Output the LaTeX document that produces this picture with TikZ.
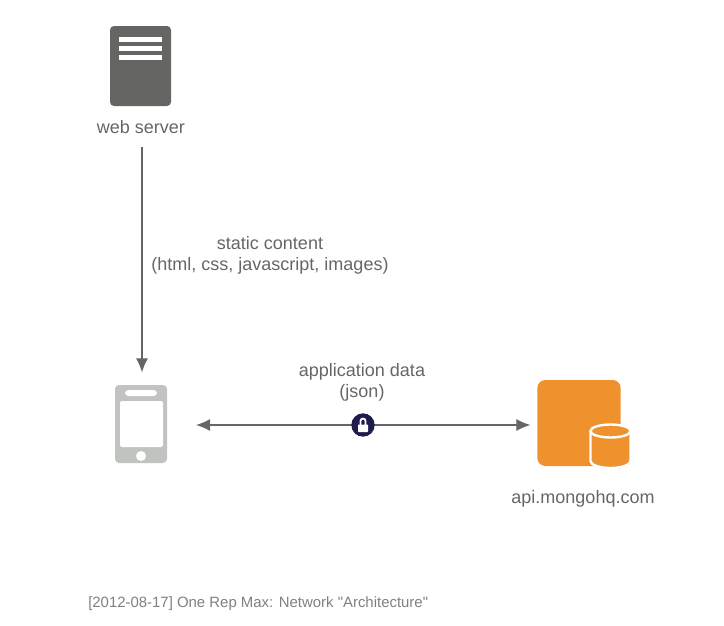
\documentclass[tikz,border=0pt]{standalone}
\usepackage{fontspec}
\setmainfont[Ligatures=TeXOff]{Liberation Sans}
\usetikzlibrary{arrows.meta,backgrounds,positioning,shapes.geometric}
\definecolor{netInk}{HTML}{666666}
\definecolor{netMuted}{HTML}{808080}
\definecolor{netServer}{HTML}{656563}
\definecolor{netPhone}{HTML}{C1C3C0}
\definecolor{netOrange}{HTML}{EF922E}
\definecolor{netLock}{HTML}{1F1C4D}
\tikzset{
  net diagram/.style={x=0.75pt, y=-0.75pt, text=netInk,
    font=\fontsize{13.5}{15.75}\selectfont},
  net label/.style={align=center, inner sep=0pt},
  net note/.style={inner sep=0pt, anchor=west, text=netMuted,
    font=\fontsize{11.2}{13}\selectfont},
  net icon/.style={inner sep=0pt, outer sep=0pt, rectangle},
  net server/.style={net icon, fill=netServer, minimum width=45.75pt,
    minimum height=60pt, rounded corners=3pt},
  net phone/.style={net icon, fill=netPhone, minimum width=39pt,
    minimum height=58.5pt, rounded corners=3pt},
  net store/.style={net icon, fill=netOrange, minimum width=62.5pt,
    minimum height=64.5pt, rounded corners=6pt},
  net lock/.style={circle, fill=netLock, inner sep=0pt, minimum size=17.5pt},
  net arrow/.style={-{Latex[length=10.5pt,width=9pt]}, draw=netInk, line width=0.9pt},
  net both/.style={net arrow, {Latex[length=10.5pt,width=9pt]}-{Latex[length=10.5pt,width=9pt]}}
}
\begin{document}
\begin{tikzpicture}[net diagram]
\useasboundingbox (0,0) rectangle (724,625);
% server
\node[net server] (server) at (140.5,66) {};
\foreach \y in {39.5,48.5,57.5}
  \fill[white] (119,\y-2.5) rectangle (162,\y+2.5);
\node[net label] (serverLabel) at (141,127) {web server};
% phone
\node[net phone] (phone) at (141,424) {};
\fill[white, rounded corners=2.5pt] (125,390) rectangle (157,396);
\fill[white, rounded corners=1.5pt] (120,401) rectangle (163,447);
\fill[white] (141,456) circle (5);
% mongo
\node[net store] (mongo) at (579,423) {};
\fill[netOrange, draw=white, line width=1.8pt] (590.5,431) -- (590.5,461)
  arc[start angle=180, end angle=0, x radius=20, y radius=7] -- (630.5,431);
\fill[netOrange, draw=white, line width=1.8pt] (610.5,431) ellipse (20 and 6.5);
\node[net label] (mongoLabel) at (583,499) {api.mongohq.com};
% lock
\node[net lock] (lock) at (363,425) {};
\fill[white, rounded corners=0.5pt] (358,424.5) rectangle (368,432);
\draw[white, line width=1.3pt] (360.5,425) -- (360.5,421)
  arc[start angle=180, end angle=360, radius=2.5] -- (365.5,425);
% connectors
\draw[net arrow, shorten <=10pt, shorten >=9.5pt]
  ([xshift=0.75pt]serverLabel.south) -- ([xshift=0.75pt]phone.north);
\begin{scope}[on background layer]
\draw[net both, shorten <=21.75pt, shorten >=5.25pt]
  (phone.east |- lock) -- (mongo.west |- lock);
\end{scope}
% labels
\node[net label] (staticLabel) at (270,255) {static content\\(html, css, javascript, images)};
\node[net label] (dataLabel) at (362,382) {application data\\(json)};
\node[net note] (caption) at (88,603.5) {[2012-08-17] One Rep Max: Network "Architecture"};
\end{tikzpicture}
\end{document}
